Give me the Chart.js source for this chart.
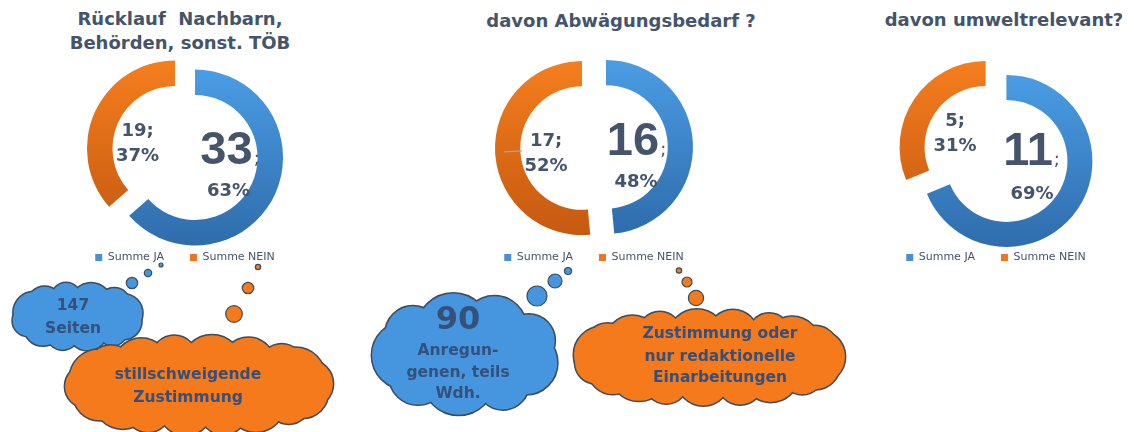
<!DOCTYPE html>
<html lang="de">
<head>
<meta charset="utf-8">
<title>Rücklauf und Abwägung</title>
<script src="https://cdn.jsdelivr.net/npm/chart.js@4.4.1/dist/chart.umd.min.js"></script>
<style>
  html, body { margin: 0; padding: 0; }
  body { width: 1134px; height: 432px; position: relative; overflow: hidden; background: #fff; font-family: "DejaVu Sans", sans-serif; }
  .title { position: absolute; width: 400px; text-align: center; color: #44546A; font-weight: bold; font-size: 18px; line-height: 24px; white-space: nowrap; }
  .chartbox { position: absolute; top: 0; width: 260px; height: 273px; }
  #clouds { position: absolute; left: 0; top: 0; }
  .cloudtext { position: absolute; width: 260px; text-align: center; color: #35507A; font-weight: bold; font-size: 15.5px; line-height: 22px; white-space: nowrap; }
</style>
</head>
<body>
<div id="titles"></div>
<div class="chartbox" id="box0"><canvas id="c0" width="260" height="273"></canvas></div>
<div class="chartbox" id="box1"><canvas id="c1" width="260" height="273"></canvas></div>
<div class="chartbox" id="box2"><canvas id="c2" width="260" height="273"></canvas></div>
<svg id="clouds" width="1134" height="432"></svg>
<div id="cloudtexts"></div>
<script>
// data
const categories = ['Summe JA', 'Summe NEIN'];
const titles = [['Rücklauf  Nachbarn,', 'Behörden, sonst. TÖB'], ['davon Abwägungsbedarf ?'], ['davon umweltrelevant?']];
const jaValues = [33, 16, 11];
const neinValues = [19, 17, 5];
const cloudLines = [
  ['147', 'Seiten'],
  ['stillschweigende', 'Zustimmung'],
  ['90', 'Anregun-', 'genen, teils', 'Wdh.'],
  ['Zustimmung oder', 'nur redaktionelle', 'Einarbeitungen']
];

// layout + style
const centers = [[184.5, 153], [594, 147.5], [996, 154]];
const ringRadius = [88, 87, 86];
const explodeShift = [11, 12, 12.5];
const titlePos = [[180, 7], [621, 9], [1004, 8]];
const labelOffsets = [
  { nein: [-47.5, -11], num: [41.5, -6], pct: [43.5, 36], leader: false },
  { nein: [-48, 4.5], num: [39, -9.5], pct: [42, 32.5], leader: true },
  { nein: [-41, -22], num: [32, -6], pct: [36, 38], leader: false }
];
const lightColors = ['#4CA0E8', '#F8801F'];
const darkColors = ['#2D69A8', '#C2570F'];
const legendColors = ['#4A8FD6', '#ED7422'];
const textColor = '#44546A';

Chart.defaults.font.family = '"DejaVu Sans", sans-serif';

// titles
const titleBox = document.getElementById('titles');
titles.forEach((lines, k) => {
  const d = document.createElement('div');
  d.className = 'title';
  d.style.left = (titlePos[k][0] - 200) + 'px';
  d.style.top = titlePos[k][1] + 'px';
  d.innerHTML = lines.map(t => t.replace(/ /g, '&nbsp;')).join('<br>');
  titleBox.appendChild(d);
});

// slices are pushed outwards (exploded doughnut)
const explodePlugin = {
  id: 'explode',
  beforeDatasetDraw(chart, args, opts) {
    const ctx = chart.ctx;
    args.meta.data.forEach(arc => {
      const mid = (arc.startAngle + arc.endAngle) / 2;
      ctx.save();
      ctx.translate(Math.cos(mid) * opts.shift, Math.sin(mid) * opts.shift);
      arc.draw(ctx);
      ctx.restore();
    });
    return false;
  }
};

// value;percent labels inside the ring
const ringLabels = {
  id: 'ringLabels',
  afterDatasetsDraw(chart, args, opts) {
    const ctx = chart.ctx;
    const arcs = chart.getDatasetMeta(0).data;
    const values = chart.data.datasets[0].data;
    const total = values.reduce((s, v) => s + v, 0);
    const pct = values.map(v => Math.round(v / total * 100) + '%');
    const cx = arcs[0].x, cy = arcs[0].y;
    const cap = 0.729 * 18;
    ctx.save();
    ctx.fillStyle = textColor;
    ctx.textAlign = 'center';
    ctx.textBaseline = 'alphabetic';

    ctx.font = 'bold 18px "DejaVu Sans"';
    const nx = cx + opts.nein[0], ny = cy + opts.nein[1];
    ctx.fillText(values[1] + ';', nx, ny - 12.5 + cap / 2);
    ctx.fillText(pct[1], nx, ny + 12.5 + cap / 2);

    ctx.font = 'bold 47px "Liberation Sans"';
    const num = String(values[0]);
    const bx = cx + opts.num[0], by = cy + opts.num[1] + 0.716 * 47 / 2;
    ctx.fillText(num, bx, by);
    const w = ctx.measureText(num).width;
    ctx.textAlign = 'left';
    ctx.font = '18px "DejaVu Sans"';
    ctx.fillText(';', bx + w / 2 + 1, by);
    ctx.textAlign = 'center';
    ctx.font = 'bold 18px "DejaVu Sans"';
    ctx.fillText(pct[0], cx + opts.pct[0], cy + opts.pct[1] + cap / 2);

    if (opts.leader) {
      const mid = (arcs[1].startAngle + arcs[1].endAngle) / 2;
      ctx.strokeStyle = '#9EA7B2';
      ctx.lineWidth = 1.2;
      ctx.beginPath();
      ctx.moveTo(cx + Math.cos(mid) * 90, cy + Math.sin(mid) * 90);
      ctx.lineTo(cx + Math.cos(mid) * 72, cy + Math.sin(mid) * 72);
      ctx.stroke();
    }
    ctx.restore();
  }
};

function ringGradient(c, k) {
  const area = c.chart.chartArea;
  if (!area) return legendColors[c.dataIndex];
  const cy = (area.top + area.bottom) / 2;
  const r = ringRadius[k] + explodeShift[k];
  const g = c.chart.ctx.createLinearGradient(0, cy - r, 0, cy + r);
  g.addColorStop(0, lightColors[c.dataIndex]);
  g.addColorStop(1, darkColors[c.dataIndex]);
  return g;
}

for (let k = 0; k < 3; k++) {
  document.getElementById('box' + k).style.left = (centers[k][0] - 130) + 'px';
  new Chart(document.getElementById('c' + k), {
    type: 'doughnut',
    data: {
      labels: categories,
      datasets: [{
        data: [jaValues[k], neinValues[k]],
        backgroundColor: c => ringGradient(c, k),
        borderWidth: 0
      }]
    },
    options: {
      responsive: false,
      animation: false,
      events: [],
      radius: ringRadius[k],
      cutout: '71%',
      layout: { padding: { top: 2 * centers[k][1] - 226 } },
      plugins: {
        tooltip: { enabled: false },
        legend: {
          position: 'bottom',
          labels: {
            boxWidth: 7,
            boxHeight: 7,
            padding: 26,
            color: textColor,
            font: { size: 11 },
            generateLabels: () => categories.map((t, i) => ({
              text: t, fillStyle: legendColors[i], strokeStyle: legendColors[i],
              lineWidth: 0, hidden: false, index: i, fontColor: textColor
            }))
          }
        },
        explode: { shift: explodeShift[k] },
        ringLabels: labelOffsets[k]
      }
    },
    plugins: [explodePlugin, ringLabels]
  });
}

// thought clouds (decoration)
const clouds = [
  { cx: 77.5, cy: 316.5, a: 66, b: 34, fill: '#4596DE' },
  { cx: 199, cy: 385, a: 134, b: 50, fill: '#F47A1C' },
  { cx: 466, cy: 354, a: 94, b: 61, fill: '#4596DE' },
  { cx: 709, cy: 357.5, a: 136, b: 48, fill: '#F47A1C' }
];
const bubbles = [
  [132, 283, 5.7, 0], [148, 273, 3.7, 0], [161, 265, 2, 0],
  [234, 314, 8.3, 1], [248, 288, 5.7, 1], [258, 267, 2.7, 1],
  [537, 296, 10, 2], [555, 281, 7, 2], [568, 271, 3.5, 2],
  [679, 270.5, 2.7, 3], [687, 282, 5, 3], [696, 298, 7.6, 3]
];
const cloudX = [73, 188, 458, 720];
const cloudY = [[305, 327.5], [374, 397], [318, 350, 371.5, 392.5], [333, 356, 377]];
const outline = '#3E4C5C';

const svg = document.getElementById('clouds');
const NS = 'http://www.w3.org/2000/svg';
function el(tag, attrs) {
  const e = document.createElementNS(NS, tag);
  for (const key in attrs) e.setAttribute(key, attrs[key]);
  svg.appendChild(e);
  return e;
}
const bumpScale = [1, 0.82, 1.12, 0.9, 1.06, 0.86, 1.16];
function drawCloud(c) {
  const r = c.b * 0.52;
  const pa = c.a - r, pb = c.b - r;
  const per = 2 * Math.PI * Math.sqrt((pa * pa + pb * pb) / 2);
  const n = Math.round(per / (1.05 * r));
  const bumps = [];
  for (let j = 0; j < n; j++) {
    const t = 2 * Math.PI * j / n + 0.3;
    const rr = r * bumpScale[j % bumpScale.length];
    bumps.push([c.cx + (pa + r - rr) * Math.cos(t), c.cy + (pb + r - rr) * Math.sin(t), rr]);
  }
  bumps.forEach(([x, y, rr]) => el('circle', { cx: x, cy: y, r: rr, fill: 'none', stroke: outline, 'stroke-width': 3 }));
  el('ellipse', { cx: c.cx, cy: c.cy, rx: pa + 2, ry: pb + 2, fill: c.fill });
  bumps.forEach(([x, y, rr]) => el('circle', { cx: x, cy: y, r: rr, fill: c.fill }));
}
clouds.forEach(drawCloud);
bubbles.forEach(([x, y, r, i]) => el('circle', { cx: x, cy: y, r: r, fill: clouds[i].fill, stroke: outline, 'stroke-width': 1.2 }));

const textBox = document.getElementById('cloudtexts');
cloudLines.forEach((lines, i) => {
  lines.forEach((t, j) => {
    const d = document.createElement('div');
    d.className = 'cloudtext';
    d.textContent = t;
    const big = (i === 2 && j === 0);
    if (big) { d.style.fontSize = '32px'; d.style.lineHeight = '36px'; }
    d.style.left = (cloudX[i] - 130) + 'px';
    d.style.top = (cloudY[i][j] - (big ? 18 : 11)) + 'px';
    textBox.appendChild(d);
  });
});
</script>
</body>
</html>
